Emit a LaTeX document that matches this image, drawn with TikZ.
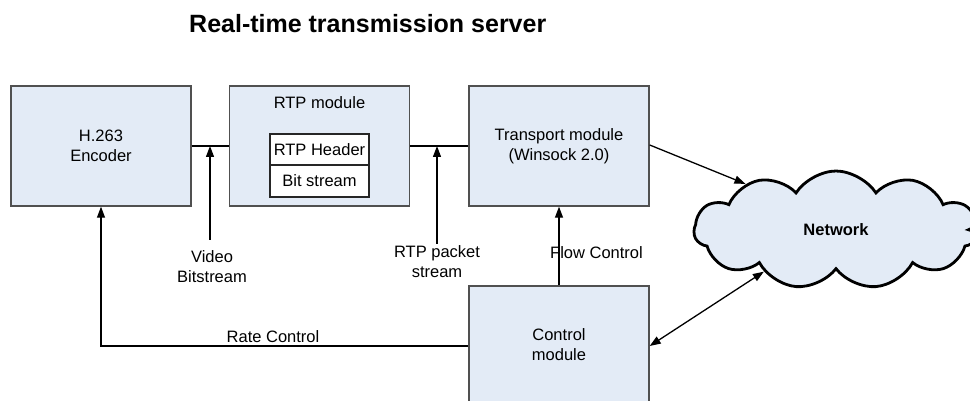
\documentclass[tikz,border=0pt]{standalone}
\usepackage{fontspec}
\setmainfont{Liberation Sans}
\usetikzlibrary{arrows.meta,shapes.symbols}
\definecolor{boxfill}{RGB}{227,235,246}
\definecolor{boxline}{RGB}{80,80,80}
\begin{document}
\begin{tikzpicture}[x=1pt,y=1pt,
  txt/.style={font=\fontsize{16.5}{20}\selectfont, align=center},
  module/.style={draw=boxline, line width=1.4pt, fill=boxfill, inner sep=0pt,
    minimum width=180pt, minimum height=120pt, txt},
  cell/.style={draw=black!85, line width=1.1pt, fill=white, inner sep=0pt,
    minimum width=99pt, txt},
  wire/.style={line width=1.3pt, black},
  arr/.style={wire, -{Triangle[length=11pt,width=8pt]}},
  darr/.style={wire, {Triangle[length=11pt,width=8pt]}-{Triangle[length=11pt,width=8pt]}}
]
\useasboundingbox (0,0) rectangle (970,401);
\clip (0,0) rectangle (970,401);

% title
\node[anchor=base west, inner sep=0pt, font=\fontsize{25}{30}\selectfont\bfseries]
  (title) at (189,368) {Real-time transmission server};

% modules of the server
\node[module] (enc) at (101,255) {H.263\\Encoder};
\node[module] (rtp) at (319.5,255) {};
\node[txt, inner sep=0pt] (rtplbl) at (319.5,298) {RTP module};
\node[cell, minimum height=31pt] (hdr) at (319.5,251.5) {RTP Header};
\node[cell, minimum height=32pt] (bits) at (319.5,220) {Bit stream};
\node[module] (trn) at (559,255) {Transport module\\(Winsock 2.0)};
\node[module, minimum height=118pt] (ctrl) at (559,56) {Control\\module};

% network cloud
\node[cloud, cloud puffs=11, cloud puff arc=115, cloud ignores aspect,
  minimum width=284pt, minimum height=118pt, draw=black, line width=2.8pt,
  fill=boxfill, font=\fontsize{16.5}{20}\selectfont\bfseries] (net) at (836,171) {Network};

% data path
\draw[wire] (enc.east) -- (rtp.west);
\draw[wire] (rtp.east) -- (trn.west);

% stream annotations
\coordinate (vb) at (210,161);
\coordinate (ps) at (437,157);
\draw[arr] (vb) -- (vb |- enc.east);
\draw[arr] (ps) -- (ps |- rtp.east);
\node[txt, inner sep=0pt] (vblbl) at (212,134) {Video\\Bitstream};
\node[txt, inner sep=0pt] (pslbl) at (437,139.5) {RTP packet\\stream};

% control paths
\draw[arr] (ctrl.north) -- (trn.south);
\node[txt, inner sep=0pt, anchor=west] (flbl) at (550,148) {Flow Control};
\draw[arr] (ctrl.west |- 0,55) -| (enc.south);
\node[txt, inner sep=0pt] (rlbl) at (273,64) {Rate Control};

% network links
\draw[arr] (trn.east |- 0,256) -- (net.153);
\draw[darr] (ctrl.east |- 0,55) -- (net.210);
\coordinate (ext) at (995,173);
\draw[arr] (ext) -- ([xshift=-15pt]net.east);
\end{tikzpicture}
\end{document}
